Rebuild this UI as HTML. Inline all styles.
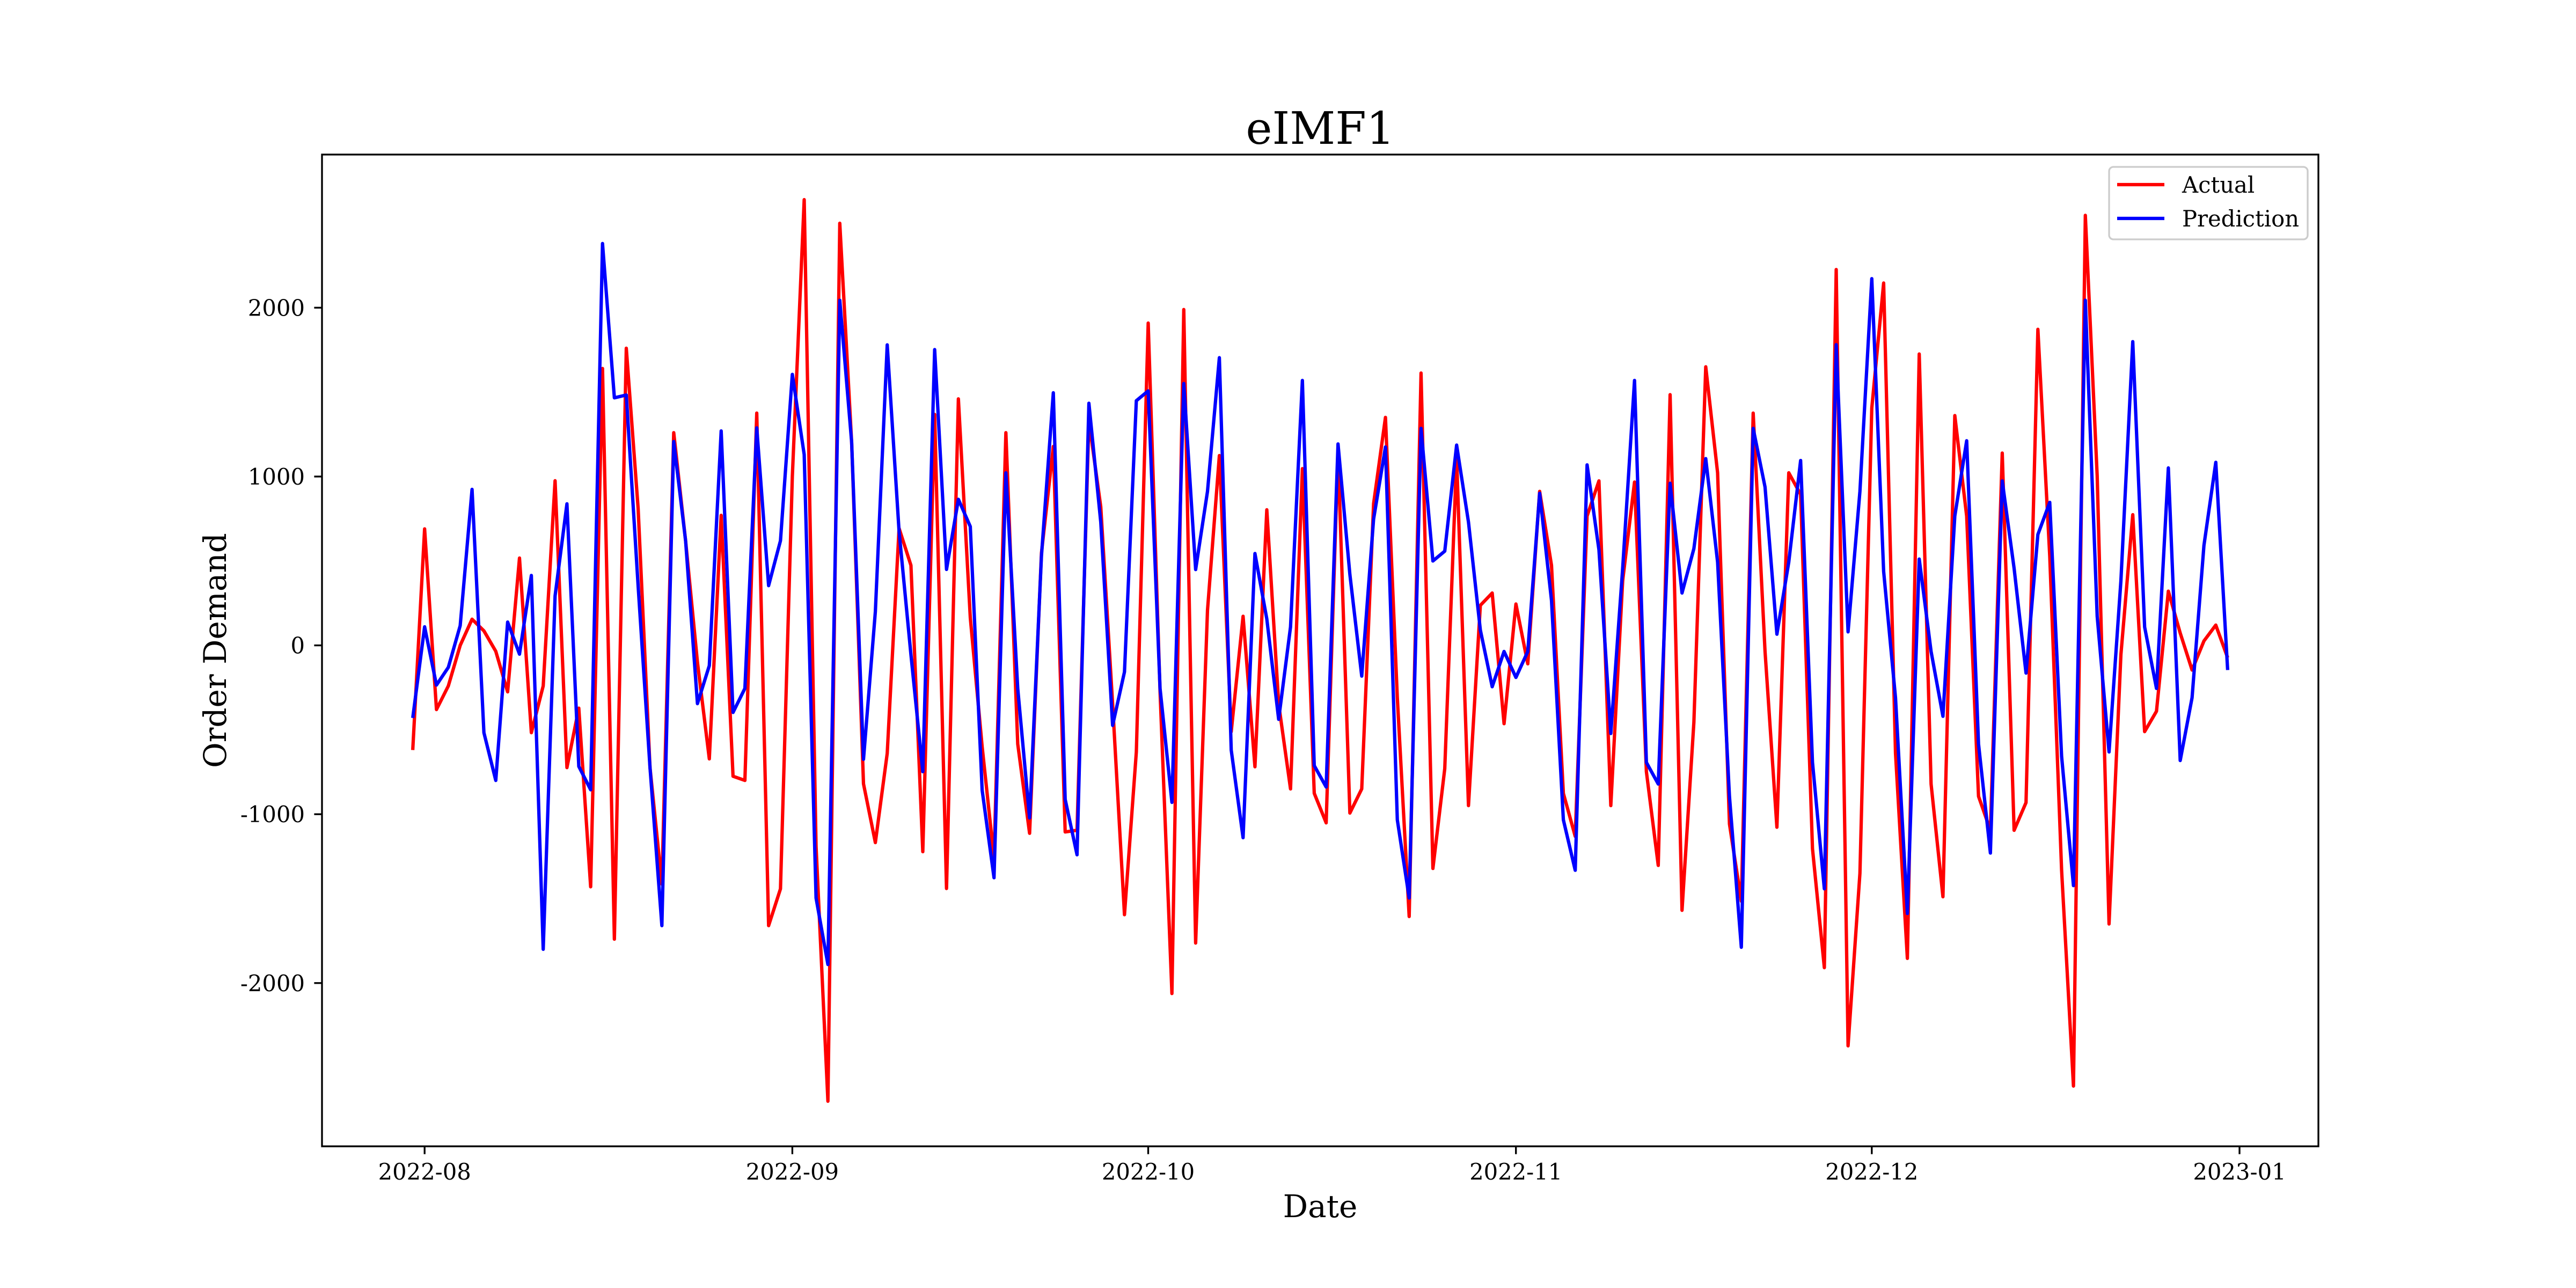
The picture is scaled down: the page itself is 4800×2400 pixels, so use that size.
<!DOCTYPE html>
<html><head><meta charset="utf-8"><style>
html,body{margin:0;padding:0;background:#fff;}
svg{display:block;}
text{font-family:"DejaVu Serif","Liberation Serif",serif;fill:#000;}
</style></head>
<body>
<svg id="chart" width="4800" height="2400" viewBox="0 0 4800 2400" xmlns="http://www.w3.org/2000/svg">
<rect x="0" y="0" width="4800" height="2400" fill="#fff"/>
<text x="2460" y="268" font-size="83" text-anchor="middle">eIMF1</text>
<g id="plot"></g>
<text x="2460" y="2268" font-size="58" text-anchor="middle">Date</text>
<text x="0" y="0" font-size="58" text-anchor="middle" dominant-baseline="central" transform="translate(401,1212) rotate(-90)">Order Demand</text>
</svg>
<script>
const startDate = "2022-07-31";
const tickLabelsX = ["2022-08","2022-09","2022-10","2022-11","2022-12","2023-01"];
const tickDayX = [1,32,62,93,123,154];
const tickValuesY = [-2000,-1000,0,1000,2000];
const tickLabelsY = ["-2000","-1000","0","1000","2000"];
const actual = [-620,690,-380,-240,0,155,86,-35,-275,517,
-517,-240,975,-724,-372,-1430,1640,-1740,1760,810,
-724,-1414,1260,620,-100,-672,770,-775,-800,1376,
-1660,-1442,1000,2640,-1190,-2700,2500,1204,-820,-1168,
-640,693,474,-1222,1368,-1440,1460,164,-600,-1260,
1260,-584,-1113,547,1178,-1105,-1095,1332,821,-347,
-1595,-631,1909,-274,-2062,1989,-1763,208,1124,-511,
172,-719,803,-347,-850,1047,-876,-1051,1150,-993,
-850,839,1350,-310,-1606,1613,-1321,-730,1113,-949,
237,310,-464,245,-109,912,474,-876,-1131,766,
974,-949,383,967,-748,-1303,1485,-1569,-456,1650,
1022,-1058,-1515,1376,-36,-1077,1022,894,-1204,-1909,
2226,-2372,-1350,1405,2146,-639,-1854,1726,-821,-1489,
1361,766,-894,-1095,1139,-1095,-931,1872,529,-1332,
-2610,2547,1004,-1650,-55,774,-511,-390,321,73,
-146,26,120,-73];
const prediction = [-430,110,-235,-130,117,924,-517,-800,138,-52,
414,-1800,293,838,-717,-855,2380,1466,1483,350,
-724,-1660,1207,620,-345,-120,1270,-397,-255,1288,
354,620,1605,1130,-1496,-1890,2044,1204,-675,200,
1780,675,-55,-748,1752,450,865,704,-858,-1376,
1022,-255,-1022,529,1496,-912,-1240,1434,730,-474,
-157,1449,1507,-255,-930,1551,449,912,1704,-620,
-1139,544,157,-438,109,1569,-712,-839,1193,420,
-182,748,1175,-1033,-1496,1285,500,558,1186,730,
91,-245,-36,-190,-36,901,266,-1033,-1332,1069,
566,-522,456,1569,-693,-821,960,310,573,1106,
493,-894,-1788,1285,938,66,493,1095,-693,-1442,
1781,80,912,2172,438,-310,-1588,511,-36,-420,
766,1212,-584,-1230,974,456,-164,657,847,-657,
-1423,2044,172,-631,383,1799,109,-255,1051,-682,
-310,591,1084,-146];

const NS = "http://www.w3.org/2000/svg";
const L = 600, R = 4320, T = 288, B = 2136;
const n = actual.length;
const allV = actual.concat(prediction);
const vmin = Math.min(...allV), vmax = Math.max(...allV);
const vr = vmax - vmin;
const y0 = vmin - 0.05 * vr, y1 = vmax + 0.05 * vr;
const x0 = -0.05 * (n - 1), x1 = (n - 1) * 1.05;
function xs(d){ return L + (d - x0) / (x1 - x0) * (R - L); }
function ys(v){ return B - (v - y0) / (y1 - y0) * (B - T); }
const plot = document.getElementById('plot');
function mk(tag, attrs){ const e = document.createElementNS(NS, tag); for (const k in attrs) e.setAttribute(k, attrs[k]); return e; }

// series
function drawSeries(vals, color, name){
  let d = "";
  vals.forEach((v,i)=>{ d += (i ? "L" : "M") + xs(i).toFixed(1) + "," + ys(v).toFixed(1); });
  const p = mk('path', {d: d, fill: 'none', stroke: color, 'stroke-width': 6.25, 'stroke-linejoin': 'round', 'stroke-linecap': 'butt'});
  
  
  plot.appendChild(p);
}
drawSeries(actual, '#ff0000', 'actual-line');
drawSeries(prediction, '#0000ff', 'prediction-line');

// spines
const frame = mk('rect', {x: L, y: T, width: R - L, height: B - T, fill: 'none', stroke: '#000', 'stroke-width': 3.33});


plot.appendChild(frame);

// x ticks
tickDayX.forEach((d, i) => {
  const x = xs(d);
  const t = mk('line', {x1: x, x2: x, y1: B, y2: B + 14.6, stroke: '#000', 'stroke-width': 3.33});
  
  
  plot.appendChild(t);
  const lb = mk('text', {x: x, y: 2198, 'font-size': 41.7, 'text-anchor': 'middle'});
  lb.textContent = tickLabelsX[i];
  
  
  plot.appendChild(lb);
});
// y ticks
tickValuesY.forEach((v, i) => {
  const y = ys(v);
  const t = mk('line', {x1: L - 14.6, x2: L, y1: y, y2: y, stroke: '#000', 'stroke-width': 3.33});
  
  
  plot.appendChild(t);
  const lb = mk('text', {x: 568, y: y + 15, 'font-size': 41.7, 'text-anchor': 'end'});
  lb.textContent = tickLabelsY[i];
  
  
  plot.appendChild(lb);
});

// legend
const lg = mk('g', {});


const box = mk('rect', {x: 3930, y: 311, width: 370, height: 135, rx: 8, fill: 'rgba(255,255,255,0.8)', stroke: '#cccccc', 'stroke-width': 3.33});


lg.appendChild(box);
const entries = [['Actual', '#ff0000', 344], ['Prediction', '#0000ff', 407]];
entries.forEach(e => {
  const g = mk('g', {});
  
  
  const ln = mk('line', {x1: 3945, x2: 4033, y1: e[2], y2: e[2], stroke: e[1], 'stroke-width': 6.25});
  g.appendChild(ln);
  const tx = mk('text', {x: 4066, y: e[2] + 15, 'font-size': 41.7});
  tx.textContent = e[0];
  g.appendChild(tx);
  lg.appendChild(g);
});
plot.appendChild(lg);
</script>
</body></html>
